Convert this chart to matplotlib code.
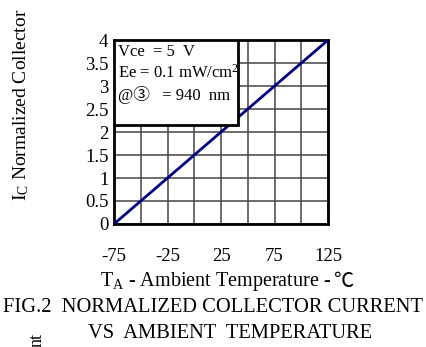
import matplotlib.pyplot as plt
from matplotlib.patches import Rectangle

plt.rcParams['font.family'] = ['Liberation Serif', 'DejaVu Serif', 'Noto Sans CJK SC']
plt.rcParams['mathtext.fontset'] = 'custom'
plt.rcParams['mathtext.rm'] = 'Liberation Serif'
plt.rcParams['mathtext.it'] = 'Liberation Serif'

# data
temp = [-75, 125]
ic_norm = [0, 4]
x_ticks = [-75, -25, 25, 75, 125]
x_grid = list(range(-75, 126, 25))
y_ticks = [0, 0.5, 1, 1.5, 2, 2.5, 3, 3.5, 4]
y_labels = ["0", "0.5", "1", "1.5", "2", "2.5", "3", "3.5", "4"]
cond_lines = ["Vce  = 5  V", "Ee = 0.1 mW/cm$^2$", "@③   = 940  nm"]

fig = plt.figure(figsize=(4.26, 3.47), dpi=100)
ax = fig.add_axes([0.2676, 0.3545, 0.5024, 0.530])

ax.set_xlim(-75, 125)
ax.set_ylim(0, 4)
ax.set_xticks(x_grid)
ax.set_xticklabels([str(v) if v in x_ticks else "" for v in x_grid], fontsize=13.5)
ax.set_yticks(y_ticks)
ax.set_yticklabels(y_labels, fontsize=13.5)
ax.tick_params(length=0, pad=4)
ax.tick_params(axis='x', pad=17)
ax.grid(True, color='#444444', linewidth=1.1)
for s in ax.spines.values():
    s.set_linewidth(2)

ax.plot(temp, ic_norm, color='#000080', linewidth=2, zorder=3)

# condition box
box = Rectangle((-75, 2.15), 116, 1.85, facecolor='white', edgecolor='black',
                linewidth=2, zorder=4)
ax.add_patch(box)
cond_y = [3.74, 3.28, 2.80]
for t, yy in zip(cond_lines, cond_y):
    ax.text(-71, yy, t, fontsize=12, va='center', ha='left', zorder=5)

# x label: T_A part in mathtext, the Celsius sign as plain text so font fallback works
xl = fig.text(0.235, 0.19, "T$_\\mathregular{A}$ - Ambient Temperature - ",
              ha='left', va='center', fontsize=14.5)
fig.canvas.draw()
ax.annotate("℃", xy=(1, 0.5), xycoords=xl, xytext=(1, 0), textcoords='offset points',
            ha='left', va='center', fontsize=14.5, annotation_clip=False,
            family=['Noto Sans CJK SC', 'DejaVu Sans'])
ax.set_ylabel("I$_\\mathregular{C}$ Normalized Collector", fontsize=14)
ax.yaxis.set_label_coords(-0.39, 0.647)

fig.text(0.5, 0.115, "FIG.2  NORMALIZED COLLECTOR CURRENT", ha='center', va='center', fontsize=14.8)
fig.text(0.54, 0.04, "VS  AMBIENT  TEMPERATURE", ha='center', va='center', fontsize=14.8)
fig.text(0.087, 0.02, "nt", rotation=90, ha='center', va='center', fontsize=13)

fig.savefig("out.png", dpi=100)
